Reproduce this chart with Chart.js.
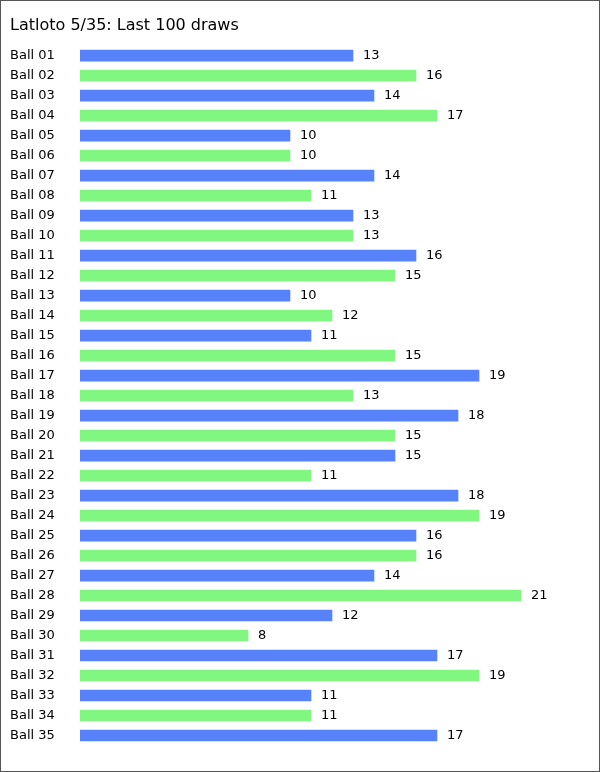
<!DOCTYPE html>
<html>
<head>
<meta charset="utf-8">
<title>Latloto 5/35</title>
<script src="https://cdn.jsdelivr.net/npm/chart.js@4.4.1/dist/chart.umd.min.js"></script>
<style>
    html, body { margin: 0; padding: 0; background: #fff; }
    #wrap {
        width: 600px;
        height: 772px;
        box-sizing: border-box;
        border: 1px solid #555;
        position: relative;
    }
    #ballsChart { display: block; }
</style>
</head>
<body>
<div id="wrap">
    <canvas id="ballsChart" width="598" height="770"></canvas>
</div>
<script>
// Dados do gráfico
const ballLabels = [
    'Ball 01', 'Ball 02', 'Ball 03', 'Ball 04', 'Ball 05', 'Ball 06', 'Ball 07',
    'Ball 08', 'Ball 09', 'Ball 10', 'Ball 11', 'Ball 12', 'Ball 13', 'Ball 14',
    'Ball 15', 'Ball 16', 'Ball 17', 'Ball 18', 'Ball 19', 'Ball 20', 'Ball 21',
    'Ball 22', 'Ball 23', 'Ball 24', 'Ball 25', 'Ball 26', 'Ball 27', 'Ball 28',
    'Ball 29', 'Ball 30', 'Ball 31', 'Ball 32', 'Ball 33', 'Ball 34', 'Ball 35'
];
const drawCounts = [
    13, 16, 14, 17, 10, 10, 14, 11, 13, 13, 16, 15, 10, 12, 11, 15, 19, 13,
    18, 15, 15, 11, 18, 19, 16, 16, 14, 21, 12, 8, 17, 19, 11, 11, 17
];
const barColors = ['#5882FA', '#81F781'];
const chartTitle = 'Latloto 5/35: Last 100 draws';

const FONT = 'Verdana, "DejaVu Sans", sans-serif';

// Plugin para escrever o valor à direita de cada barra
const valueLabels = {
    id: 'valueLabels',
    afterDatasetsDraw(chart) {
        const ctx = chart.ctx;
        const meta = chart.getDatasetMeta(0);
        ctx.save();
        ctx.font = '13px ' + FONT;
        ctx.fillStyle = '#000';
        ctx.textAlign = 'left';
        ctx.textBaseline = 'middle';
        meta.data.forEach((bar, i) => {
            ctx.fillText(String(drawCounts[i]), bar.x + 10, bar.y);
        });
        ctx.restore();
    }
};

new Chart(document.getElementById('ballsChart'), {
    type: 'bar',
    data: {
        labels: ballLabels,
        datasets: [{
            data: drawCounts,
            backgroundColor: drawCounts.map((v, i) => barColors[i % 2]),
            borderWidth: 0,
            barThickness: 11
        }]
    },
    options: {
        indexAxis: 'y',
        responsive: false,
        animation: false,
        layout: {
            padding: { left: 9, right: 15, top: 0, bottom: 25.5 }
        },
        scales: {
            x: {
                display: false,
                min: 0,
                max: 24
            },
            y: {
                grid: { display: false },
                border: { display: false },
                ticks: {
                    crossAlign: 'far',
                    color: '#000',
                    padding: 0,
                    font: { family: FONT, size: 13 }
                },
                afterFit(scale) {
                    scale.width = 70;
                }
            }
        },
        plugins: {
            legend: { display: false },
            tooltip: { enabled: false },
            title: {
                display: true,
                text: chartTitle,
                align: 'start',
                color: '#000',
                font: { family: FONT, size: 16, weight: 'normal' },
                padding: { top: 15, bottom: 10.5 }
            }
        }
    },
    plugins: [valueLabels]
});
</script>
</body>
</html>
